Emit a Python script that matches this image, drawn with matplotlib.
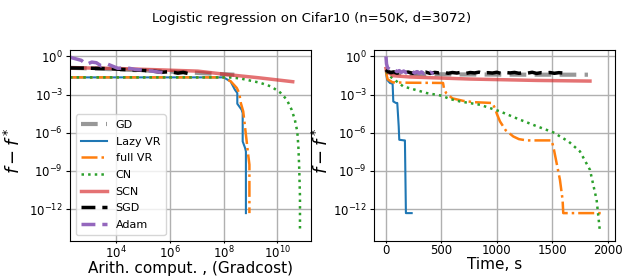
import numpy as np
import matplotlib
matplotlib.use("Agg")
import matplotlib.pyplot as plt
from matplotlib.ticker import NullLocator, FixedLocator

# ---------------- data (log10 values) ----------------
# Left panel: x = log10(arith. cost), y = log10(f - f*)
gd_ax = [2.29, 3.5, 5.0, 6.5, 7.5, 8.4]
gd_ay = [-0.90, -0.98, -1.10, -1.24, -1.35, -1.44]

lazy_ax = [2.29, 8.0, 8.26, 8.42, 8.51, 8.51, 8.67, 8.71, 8.71, 8.80, 8.83, 8.83]
lazy_ay = [-1.65, -1.65, -1.97, -2.62, -2.88, -3.72, -4.19, -4.45, -6.68, -7.20, -7.47, -12.31]

full_ax = [2.29, 8.0, 8.27, 8.49, 8.58, 8.64, 8.73, 8.88, 8.90, 8.96, 8.96]
full_ay = [-1.65, -1.65, -1.97, -2.48, -2.88, -3.66, -4.32, -7.07, -7.47, -8.5, -12.31]

cn_ax = [2.29, 8.2, 8.61, 9.35, 9.76, 10.10, 10.35, 10.53, 10.65, 10.74, 10.78, 10.81, 10.84, 10.84]
cn_ay = [-1.65, -1.65, -1.73, -2.07, -2.36, -2.83, -3.40, -4.19, -4.98, -5.90, -7.08, -8.65, -11.0, -13.6]

scn_ax = [2.29, 4.0, 5.5, 7.05, 8.05, 9.3, 10.57]
scn_ay = [-0.89, -0.95, -1.05, -1.16, -1.41, -1.68, -1.99]

sgd_ax = [2.29, 3.0, 3.6, 4.2, 4.8, 5.3, 5.7, 6.0, 6.3, 6.5, 6.75]
sgd_ay = [-0.91, -0.93, -0.96, -1.02, -1.08, -1.14, -1.25, -1.20, -1.32, -1.26, -1.38]

adam_ax = [2.29, 2.34, 2.71, 2.90, 3.10, 3.27, 3.45, 3.70, 4.07, 4.40, 4.70, 5.0, 5.31, 5.55, 5.75]
adam_ay = [-0.05, -0.10, -0.31, -0.63, -0.45, -0.50, -0.75, -0.62, -0.94, -0.90, -1.02, -1.08, -1.15, -1.22, -1.28]

# Right panel: x = time (s), y = log10(f - f*)
gd_t = [0, 30, 150, 400, 700, 1000, 1300, 1600, 1823]
gd_y = [-1.0, -1.25, -1.35, -1.40, -1.42, -1.43, -1.44, -1.44, -1.44]

lazy_t = [0, 10, 36, 60, 66, 90, 102, 115, 120, 165, 171, 180, 232]
lazy_y = [-1.2, -1.83, -2.09, -2.15, -3.54, -3.66, -3.66, -5.5, -6.55, -6.60, -6.60, -12.31, -12.31]

full_t = [0, 15, 60, 200, 400, 515, 525, 545, 600, 700, 800, 960, 985, 1000,
          1029, 1080, 1149, 1200, 1270, 1496, 1516, 1570, 1594, 1600, 1961]
full_y = [-1.2, -1.8, -2.04, -2.07, -2.08, -2.09, -2.6, -2.9, -3.3, -3.5, -3.6, -3.66, -4.1, -4.5,
          -5.11, -5.8, -6.29, -6.5, -6.6, -6.6, -7.33, -9.69, -11.27, -12.31, -12.31]

cn_t = [0, 15, 36, 156, 367, 503, 578, 668, 848, 1029, 1194, 1350, 1510, 1650, 1751, 1841, 1901, 1922, 1931]
cn_y = [-1.2, -1.35, -1.57, -2.36, -2.88, -3.09, -3.35, -3.54, -3.80, -4.32, -4.92, -5.45, -5.97, -6.7,
        -7.47, -8.91, -11.27, -13.0, -13.76]

scn_t = [0, 6, 66, 217, 758, 1360, 1841]
scn_y = [-0.95, -1.18, -1.52, -1.62, -1.78, -1.89, -1.94]

sgd_t = [0, 20, 45, 70, 100, 130, 160, 200, 240, 280, 320, 360, 400, 440, 480, 520, 560,
         600, 640, 680, 720, 760, 800, 840, 880, 920, 960, 1000, 1040, 1080, 1120, 1160,
         1200, 1240, 1280, 1320, 1360, 1400, 1440, 1480, 1520, 1560, 1600, 1631]
sgd_y = [-1.05, -1.20, -1.28, -1.22, -1.32, -1.24, -1.30, -1.23, -1.33, -1.25, -1.31, -1.24,
         -1.34, -1.26, -1.30, -1.23, -1.33, -1.27, -1.31, -1.25, -1.34, -1.27, -1.30, -1.24,
         -1.33, -1.28, -1.31, -1.25, -1.34, -1.27, -1.30, -1.26, -1.33, -1.28, -1.31, -1.25,
         -1.34, -1.28, -1.30, -1.27, -1.33, -1.28, -1.31, -1.32]

adam_t = [0, 5, 15, 39, 60, 80, 100, 120, 140, 160, 180, 200, 220, 240, 260, 280, 300,
          320, 340, 360, 380, 400, 430]
adam_y = [0.0, -0.6, -0.9, -1.05, -1.18, -1.08, -1.20, -1.12, -1.25, -1.15, -1.28, -1.17,
          -1.30, -1.19, -1.31, -1.20, -1.33, -1.22, -1.34, -1.23, -1.35, -1.25, -1.36]

labels = ["GD", "Lazy VR", "full VR", "CN", "SCN", "SGD", "Adam"]
yticks = [0, -3, -6, -9, -12]

# ---------------- styles ----------------
styles = [
    dict(color="#7f7f7f", ls=(0, (4, 2)), lw=3, alpha=0.8),
    dict(color="#1f77b4", ls="-", lw=1.5),
    dict(color="#ff7f0e", ls="-.", lw=1.8),
    dict(color="#2ca02c", ls=":", lw=1.8),
    dict(color="#d62728", ls="-", lw=2.5, alpha=0.65),
    dict(color="black", ls=(0, (4, 2)), lw=2.5),
    dict(color="#9467bd", ls=(0, (4, 2)), lw=2.5),
]

p10 = lambda v: np.power(10.0, np.asarray(v, dtype=float))

fig = plt.figure(figsize=(6.23, 2.76), dpi=100)
W, H = 623, 276
ax1 = fig.add_axes([70 / W, (H - 241) / H, (311 - 70) / W, (241 - 50) / H])
ax2 = fig.add_axes([374 / W, (H - 241) / H, (615 - 374) / W, (241 - 50) / H])

left = [(gd_ax, gd_ay), (lazy_ax, lazy_ay), (full_ax, full_ay), (cn_ax, cn_ay),
        (scn_ax, scn_ay), (sgd_ax, sgd_ay), (adam_ax, adam_ay)]
right = [(gd_t, gd_y), (lazy_t, lazy_y), (full_t, full_y), (cn_t, cn_y),
         (scn_t, scn_y), (sgd_t, sgd_y), (adam_t, adam_y)]

for (x, y), lab, st in zip(left, labels, styles):
    ax1.plot(p10(x), p10(y), label=lab, **st)
for (x, y), lab, st in zip(right, labels, styles):
    ax2.plot(x, p10(y), label=lab, **st)

for ax, lx in ((ax1, -0.19), (ax2, -0.175)):
    ax.set_yscale("log")
    ax.set_ylim(10 ** -14.5, 10 ** 0.5)
    ax.yaxis.set_major_locator(FixedLocator(p10(yticks)))
    ax.yaxis.set_minor_locator(NullLocator())
    ax.grid(True, color="#b0b0b0", lw=1.0)
    ax.tick_params(axis="y", labelsize=8.5, pad=2, length=3)
    ax.tick_params(axis="x", labelsize=8.5, pad=1, length=1.5)
    ax.set_ylabel(r"$f - f^*$", fontsize=13)
    ax.yaxis.set_label_coords(lx, 0.47)

ax1.set_xscale("log")
ax1.set_xlim(10 ** 2.29, 10 ** 11.25)
ax1.xaxis.set_major_locator(FixedLocator(p10([4, 6, 8, 10])))
ax1.xaxis.set_minor_locator(NullLocator())
ax1.set_xlabel("Arith. comput. , (Gradcost)", fontsize=11, labelpad=0)

ax2.set_xlim(-108, 2067)
ax2.set_xticks([0, 500, 1000, 1500, 2000])
ax2.set_xlabel("Time, s", fontsize=11, labelpad=0)

ax1.legend(loc="lower left", fontsize=8, handlelength=2.3, borderpad=0.5,
           labelspacing=0.6, bbox_to_anchor=(0.0, 0.0))

fig.suptitle("Logistic regression on Cifar10 (n=50K, d=3072)", fontsize=9.5, y=0.955)

fig.savefig("out.png", dpi=100)
